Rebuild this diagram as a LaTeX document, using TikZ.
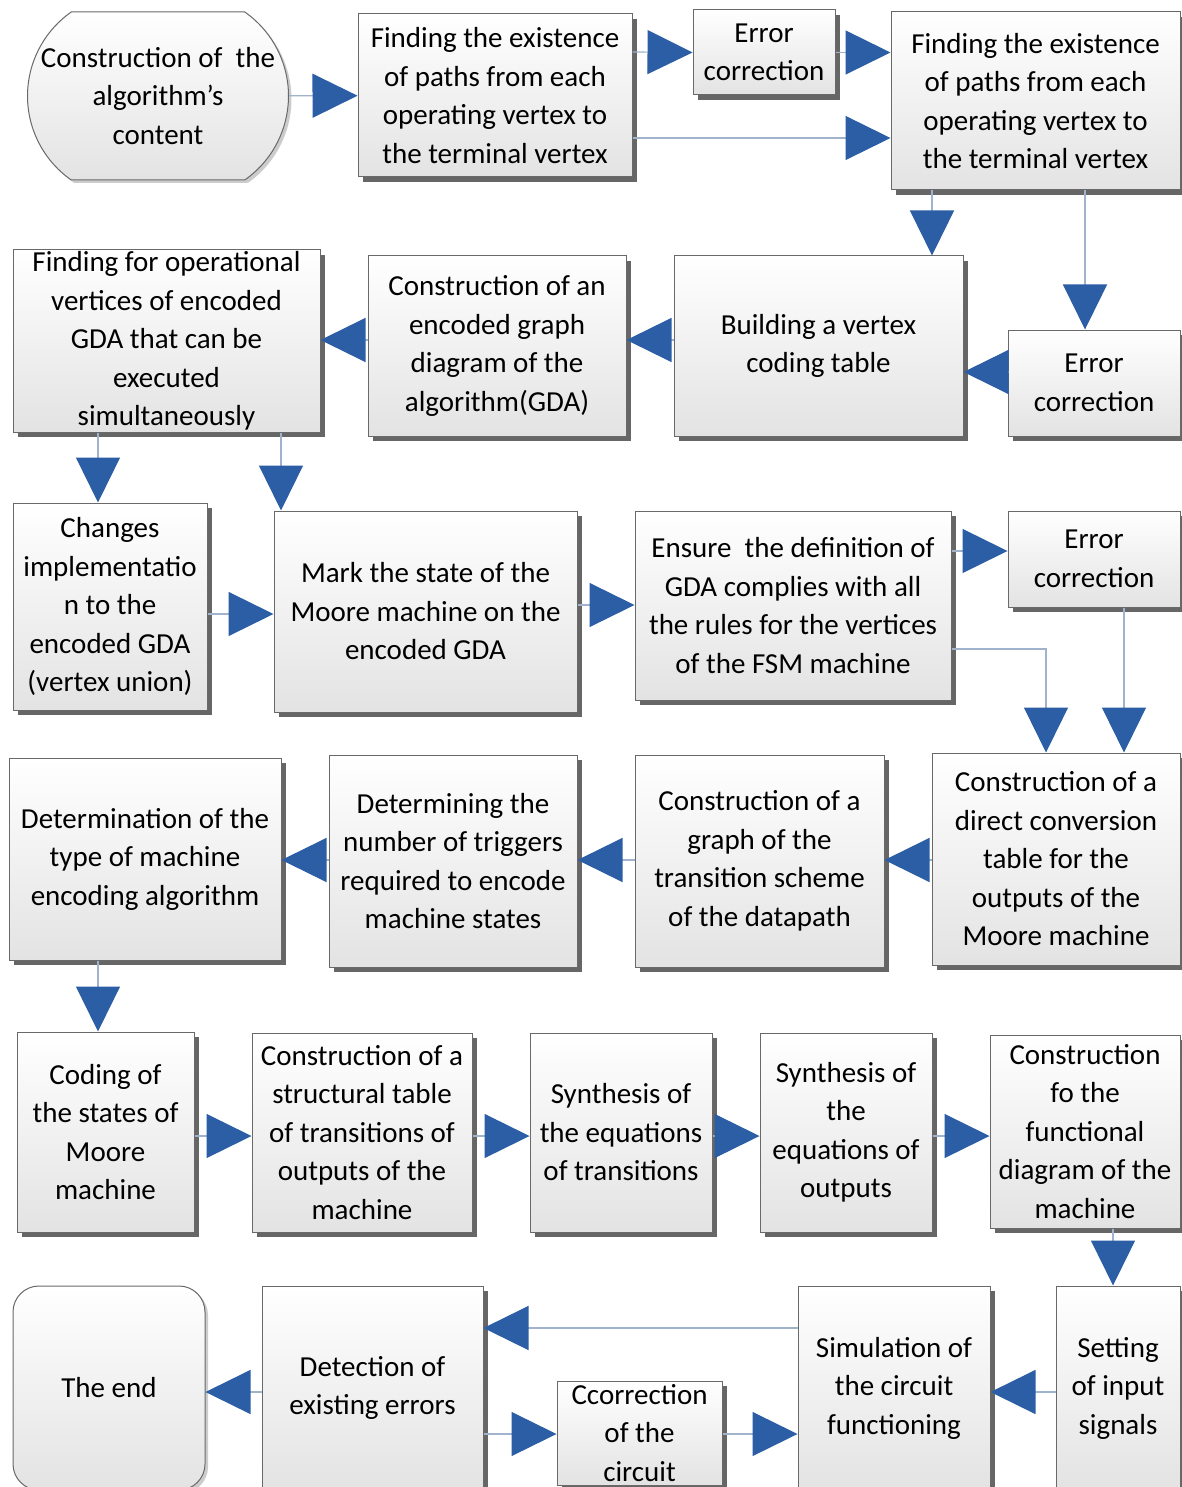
\documentclass[tikz,border=0pt]{standalone}
\usepackage{fontspec}
\setmainfont{Carlito}
\usepackage{tikz}
\usetikzlibrary{arrows.meta,shapes.misc,shadows}
\definecolor{arrowblue}{RGB}{44,94,166}
\definecolor{linkgray}{RGB}{160,178,204}
\definecolor{boxedge}{RGB}{105,105,105}
\tikzstyle{block}=[rectangle, draw=boxedge, line width=1pt, top color=white, bottom color=black!11, align=center, inner sep=1pt, drop shadow={shadow xshift=5pt, shadow yshift=-5pt, fill=black!60, opacity=1}]
\tikzstyle{terminal}=[rounded rectangle, rounded rectangle arc length=110, draw=boxedge, line width=1pt, top color=white, bottom color=black!11, align=center, inner sep=1pt, drop shadow={shadow xshift=3pt, shadow yshift=-3pt, fill=black!20, opacity=1}]
\tikzstyle{arrow}=[draw=linkgray, line width=1.2pt, -{Triangle[length=45pt, width=44pt, color=arrowblue]}]

\begin{document}
\begin{tikzpicture}[x=1pt, y=-1pt, font=\fontsize{29}{38.5}\selectfont]
		   \path [use as bounding box, fill=white] (0,0) rectangle (1182,1487);
		   \begin{scope}
			   % row 1
			   \node (s) at (158, 96)[terminal, minimum width=263pt, minimum height=168pt] {Construction of~ the\\algorithm's\\content};
			   \node (f1) at (495, 95.5)[block, minimum width=274pt, minimum height=163pt] {Finding the existence\\of paths from each\\operating vertex to\\the terminal vertex};
			   \node (e1) at (764, 52.5)[block, minimum width=142pt, minimum height=85pt] {Error\\correction};
			   \node (f2) at (1035.5, 101)[block, minimum width=289pt, minimum height=178pt] {Finding the existence\\of paths from each\\operating vertex to\\the terminal vertex};
			   % row 2
			   \node (fo) at (166.5, 341)[block, minimum width=307pt, minimum height=182pt] {Finding for operational\\vertices of encoded\\GDA that can be\\executed\\simultaneously};
			   \node (cg) at (497, 346)[block, minimum width=258pt, minimum height=180pt] {Construction of an\\encoded graph\\diagram of the\\algorithm(GDA)};
			   \node (bv) at (818.5, 346)[block, minimum width=289pt, minimum height=180pt] {Building a vertex\\coding table};
			   \node (e2) at (1094, 383)[block, minimum width=172pt, minimum height=106pt] {Error\\correction};
			   % row 3
			   \node (ch) at (110, 606.5)[block, minimum width=194pt, minimum height=207pt] {Changes\\implementatio\\n to the\\encoded GDA\\(vertex union)};
			   \node (mk) at (425.5, 611.5)[block, minimum width=303pt, minimum height=201pt] {Mark the state of the\\Moore machine on the\\encoded GDA};
			   \node (en) at (793, 605.5)[block, minimum width=316pt, minimum height=189pt] {Ensure~ the definition of\\GDA complies with all\\the rules for the vertices\\of the FSM machine};
			   \node (e3) at (1094, 559)[block, minimum width=172pt, minimum height=96pt] {Error\\correction};
			   % row 4
			   \node (dt) at (145, 859)[block, minimum width=272pt, minimum height=202pt] {Determination of the\\type of machine\\encoding algorithm};
			   \node (dn) at (453, 861)[block, minimum width=248pt, minimum height=212pt] {Determining the\\number of triggers\\required to encode\\machine states};
			   \node (cgt) at (759.5, 861)[block, minimum width=249pt, minimum height=212pt] {Construction of a\\graph of the\\transition scheme\\of the datapath};
			   \node (dc) at (1056, 859)[block, minimum width=248pt, minimum height=212pt] {Construction of a\\direct conversion\\table for the\\outputs of the\\Moore machine};
			   % row 5
			   \node (cs) at (105.5, 1132)[block, minimum width=177pt, minimum height=200pt] {Coding of\\the states of\\Moore\\machine};
			   \node (cst) at (362, 1132.5)[block, minimum width=220pt, minimum height=199pt] {Construction of a\\structural table\\of transitions of\\outputs of the\\machine};
			   \node (se) at (621, 1132.5)[block, minimum width=182pt, minimum height=199pt] {Synthesis of\\the equations\\of transitions};
			   \node (so) at (846, 1132.5)[block, minimum width=172pt, minimum height=199pt] {Synthesis of\\the\\equations of\\outputs};
			   \node (cf) at (1085, 1131.5)[block, minimum width=190pt, minimum height=193pt] {Construction\\fo the\\functional\\diagram of the\\machine};
			   % row 6
			   \node (si) at (1118, 1388)[block, minimum width=124pt, minimum height=204pt] {Setting\\of input\\signals};
			   \node (sim) at (894, 1388)[block, minimum width=192pt, minimum height=204pt] {Simulation of\\the circuit\\functioning};
			   \node (cc) at (639.5, 1433)[block, minimum width=165pt, minimum height=104pt] {Ccorrection\\of the\\circuit};
			   \node (det) at (372.5, 1388)[block, minimum width=221pt, minimum height=204pt] {Detection of\\existing errors};
			   \node (end) at (109, 1388)[terminal, rectangle, rounded corners=26pt, minimum width=192pt, minimum height=204pt] {The end};
		   \end{scope}
		   \begin{scope}
			   \path [arrow] (s) edge (f1);
			   \draw [arrow] (f1.east |- 0,52) -- (e1.west);
			   \draw [arrow] (e1.east) -- (f2.west |- e1.east);
			   \draw [arrow] (f1.east |- 0,138) -- (f2.west |- 0,138);
			   \draw [arrow] (f2.south -| 932,0) -- (bv.north -| 932,0);
			   \draw [arrow] (f2.south -| 1085,0) -- (e2.north -| 1085,0);
			   \draw [arrow] (e2.west |- 0,372) -- (bv.east |- 0,372);
			   \draw [arrow] (bv.west |- 0,340) -- (cg.east |- 0,340);
			   \draw [arrow] (cg.west |- 0,340) -- (fo.east |- 0,340);
			   \draw [arrow] (fo.south -| 98,0) -- (ch.north -| 98,0);
			   \draw [arrow] (fo.south -| 281,0) -- (mk.north -| 281,0);
			   \draw [arrow] (ch.east |- 0,614) -- (mk.west |- 0,614);
			   \draw [arrow] (mk.east |- 0,605) -- (en.west |- 0,605);
			   \draw [arrow] (en.east |- 0,551) -- (e3.west |- 0,551);
			   \draw [arrow] (en.east |- 0,649) -| (dc.north -| 1046,0);
			   \draw [arrow] (e3.south -| 1124,0) -- (dc.north -| 1124,0);
			   \draw [arrow] (dc.west |- 0,860) -- (cgt.east |- 0,860);
			   \draw [arrow] (cgt.west |- 0,860) -- (dn.east |- 0,860);
			   \draw [arrow] (dn.west |- 0,860) -- (dt.east |- 0,860);
			   \draw [arrow] (dt.south -| 98,0) -- (cs.north -| 98,0);
			   \draw [arrow] (cs.east |- 0,1136) -- (cst.west |- 0,1136);
			   \draw [arrow] (cst.east |- 0,1136) -- (se.west |- 0,1136);
			   \draw [arrow] (se.east |- 0,1136) -- (so.west |- 0,1136);
			   \draw [arrow] (so.east |- 0,1136) -- (cf.west |- 0,1136);
			   \draw [arrow] (cf.south -| 1113,0) -- (si.north -| 1113,0);
			   \draw [arrow] (si.west |- 0,1392) -- (sim.east |- 0,1392);
			   \draw [arrow] (sim.west |- 0,1328) -- (det.east |- 0,1328);
			   \draw [arrow] (det.west |- 0,1392) -- (end.east |- 0,1392);
			   \draw [arrow] (det.east |- 0,1434) -- (cc.west |- 0,1434);
			   \draw [arrow] (cc.east |- 0,1434) -- (sim.west |- 0,1434);
		   \end{scope}
	   \end{tikzpicture}
\end{document}
